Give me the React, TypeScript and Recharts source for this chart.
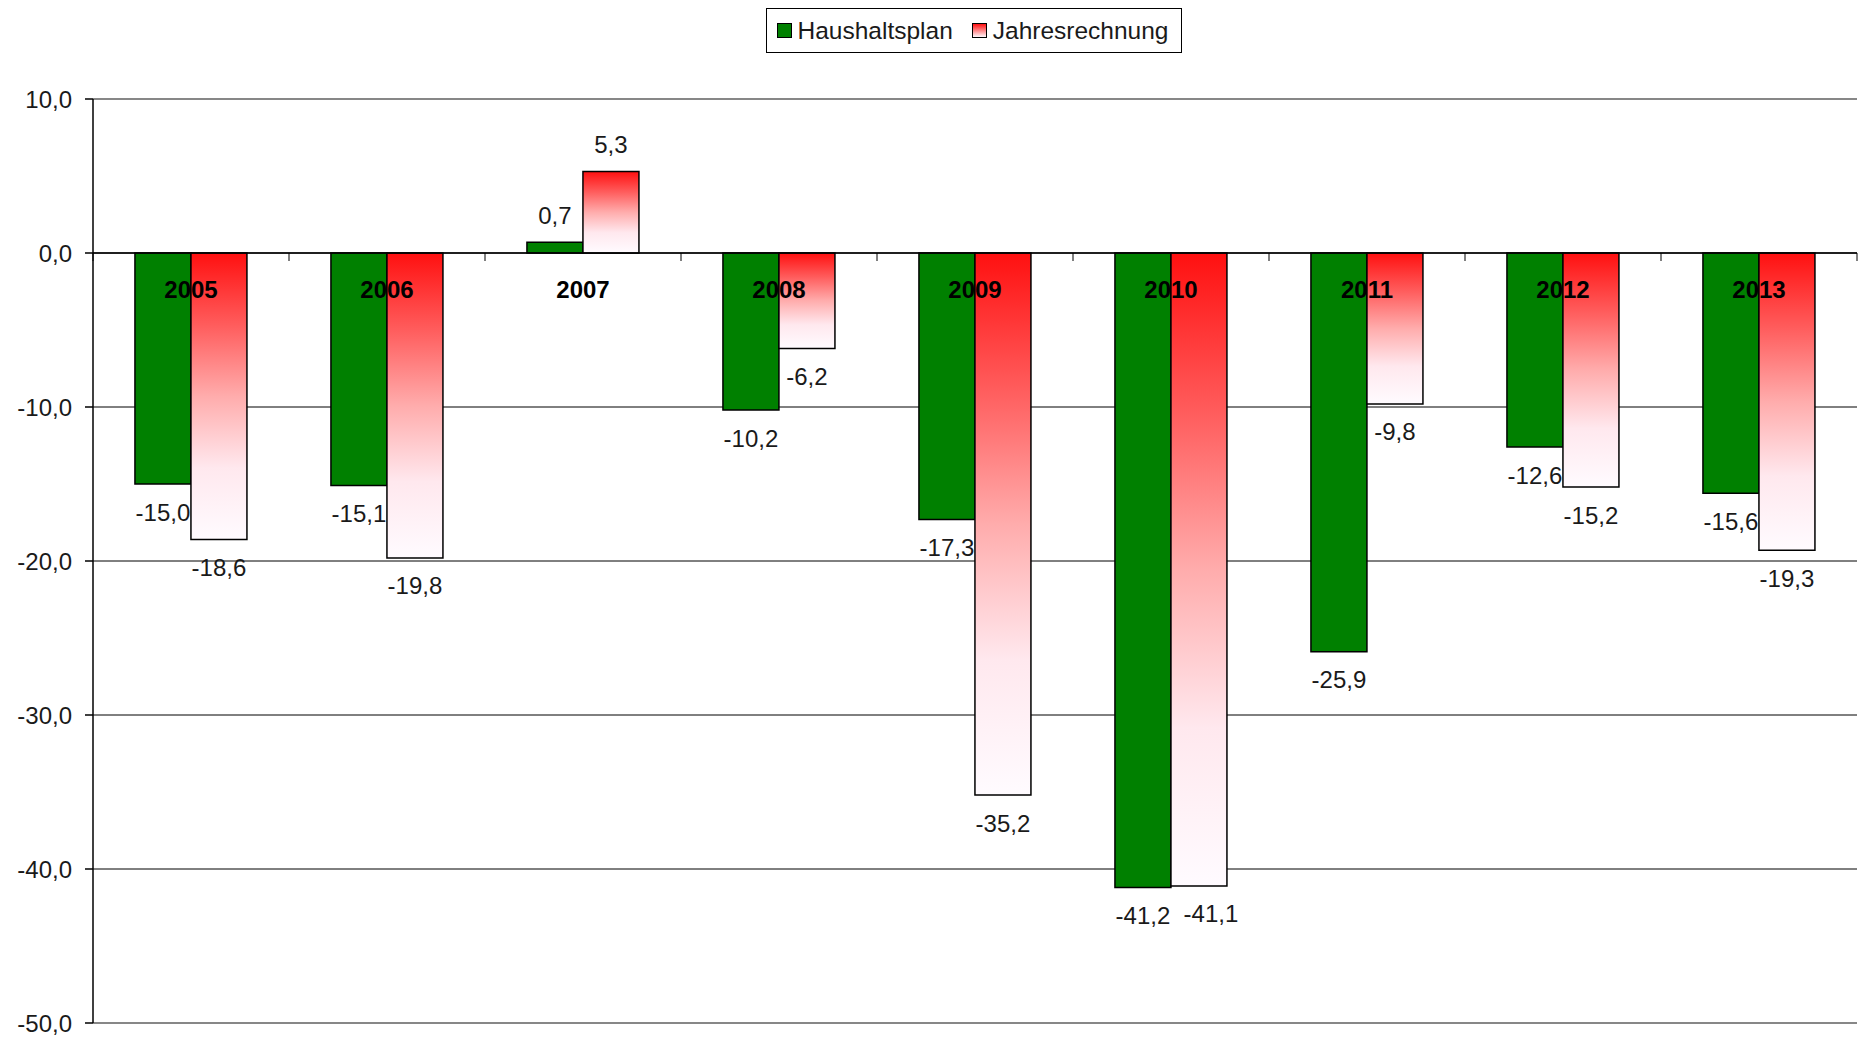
import React from 'react'
import {
  BarChart,
  Bar,
  XAxis,
  YAxis,
  CartesianGrid,
  ReferenceLine,
  LabelList,
} from 'recharts'

const years = ['2005', '2006', '2007', '2008', '2009', '2010', '2011', '2012', '2013']
const haushaltsplan = [-15.0, -15.1, 0.7, -10.2, -17.3, -41.2, -25.9, -12.6, -15.6]
const jahresrechnung = [-18.6, -19.8, 5.3, -6.2, -35.2, -41.1, -9.8, -15.2, -19.3]
const yTicks = [10, 0, -10, -20, -30, -40, -50]

const W = 1863
const H = 1039
const PLOT_TOP = 99
const PLOT_BOTTOM = 1023
const FONT = '"Liberation Sans", Arial, sans-serif'
const FS = 24

const data = years.map((year, i) => ({
  year,
  plan: haushaltsplan[i],
  ist: jahresrechnung[i],
}))

const fmt = (v: number) => v.toFixed(1).replace('.', ',')

// zero line position, from the fixed plot layout and the [-50, 10] domain
const zeroY = PLOT_TOP + ((PLOT_BOTTOM - PLOT_TOP) * 10) / 60

const YearTick = (props: any) => {
  const { x, payload, index } = props
  const band = (W - 93 - 6) / years.length
  const left = x - band / 2
  return (
    <g>
      <line x1={left} y1={zeroY} x2={left} y2={zeroY + 8} stroke="#000" />
      {index === years.length - 1 && (
        <line x1={left + band} y1={zeroY} x2={left + band} y2={zeroY + 8} stroke="#000" />
      )}
      <text
        x={x}
        y={zeroY + 36}
        textAnchor="middle"
        dominantBaseline="central"
        fontFamily={FONT}
        fontSize={FS}
        fontWeight="bold"
        fill="#000"
      >
        {payload.value}
      </text>
    </g>
  )
}

// nudge: push the right label of a pair right when both bars end almost at the same depth
const makeLabel = (series: 'plan' | 'ist') => (props: any) => {
  const { x, y, width, height, value, index } = props
  const top = Math.min(y, y + height)
  const bottom = Math.max(y, y + height)
  const ly = value < 0 ? bottom + 28 : top - 27
  const other = series === 'ist' ? haushaltsplan[index] : jahresrechnung[index]
  const close = Math.abs(other - value) < 1
  const dx = close ? (series === 'ist' ? 12 : 0) : 0
  return (
    <text
      x={x + width / 2 + dx}
      y={ly}
      textAnchor="middle"
      dominantBaseline="central"
      fontFamily={FONT}
      fontSize={FS}
      fill="#1a1a1a"
    >
      {fmt(value)}
    </text>
  )
}

const PlanLabel = makeLabel('plan')
const IstLabel = makeLabel('ist')

const LegendBox = () => (
  <div
    style={{
      position: 'absolute',
      left: 766,
      top: 8,
      display: 'flex',
      alignItems: 'center',
      height: 45,
      width: 416,
      border: '1.5px solid #000',
      background: '#fff',
      fontFamily: FONT,
      fontSize: 24.5,
      color: '#1a1a1a',
      boxSizing: 'border-box',
      paddingLeft: 9.5,
    }}
  >
    <span
      style={{
        display: 'inline-block',
        width: 15,
        height: 15,
        boxSizing: 'border-box',
        background: '#008000',
        border: '1.5px solid #000',
        marginRight: 6,
      }}
    />
    <span style={{ marginRight: 19 }}>Haushaltsplan</span>
    <span
      style={{
        display: 'inline-block',
        width: 15,
        height: 15,
        boxSizing: 'border-box',
        background: 'linear-gradient(#ff1010, #fff8fc)',
        border: '1.5px solid #000',
        marginRight: 6,
      }}
    />
    <span>Jahresrechnung</span>
  </div>
)

export default function App() {
  return (
    <div style={{ position: 'absolute', left: 0, top: 0, width: W, height: H, background: '#fff' }}>
      <BarChart
        width={W}
        height={H}
        data={data}
        margin={{ top: PLOT_TOP, right: 6, left: 0, bottom: 0 }}
        barCategoryGap="21.4%"
        barGap={0}
      >
        <defs>
          <linearGradient id="redFade" x1="0" y1="0" x2="0" y2="1">
            <stop offset="0%" stopColor="#ff1010" />
            <stop offset="25%" stopColor="#ff5c5c" />
            <stop offset="50%" stopColor="#ffacac" />
            <stop offset="75%" stopColor="#ffe8ee" />
            <stop offset="100%" stopColor="#fffbff" />
          </linearGradient>
        </defs>
        <CartesianGrid vertical={false} stroke="#000" strokeWidth={1} />
        <ReferenceLine y={10} stroke="#8a8a8a" strokeWidth={1.5} />
        <ReferenceLine y={-50} stroke="#8a8a8a" strokeWidth={1.5} />
        <XAxis
          dataKey="year"
          height={16}
          axisLine={false}
          tickLine={false}
          interval={0}
          tick={<YearTick />}
        />
        <YAxis
          domain={[-50, 10]}
          ticks={yTicks}
          interval={0}
          width={93}
          tickFormatter={fmt}
          axisLine={{ stroke: '#000', strokeWidth: 1.5 }}
          tickLine={{ stroke: '#000', strokeWidth: 1.5 }}
          tickSize={8}
          tickMargin={13}
          tick={{ fill: '#1a1a1a', fontSize: FS, fontFamily: FONT }}
        />
        <YAxis
          yAxisId="right"
          orientation="right"
          domain={[-50, 10]}
          width={0}
          tick={false}
          tickLine={false}
          axisLine={{ stroke: '#8a8a8a', strokeWidth: 1.5 }}
        />
        <Bar dataKey="plan" name="Haushaltsplan" fill="#008000" stroke="#000" strokeWidth={1.5} isAnimationActive={false}>
          <LabelList dataKey="plan" content={<PlanLabel />} />
        </Bar>
        <Bar dataKey="ist" name="Jahresrechnung" fill="url(#redFade)" stroke="#000" strokeWidth={1.5} isAnimationActive={false}>
          <LabelList dataKey="ist" content={<IstLabel />} />
        </Bar>
        <ReferenceLine y={0} stroke="#000" strokeWidth={1.5} />
      </BarChart>
      <LegendBox />
    </div>
  )
}
